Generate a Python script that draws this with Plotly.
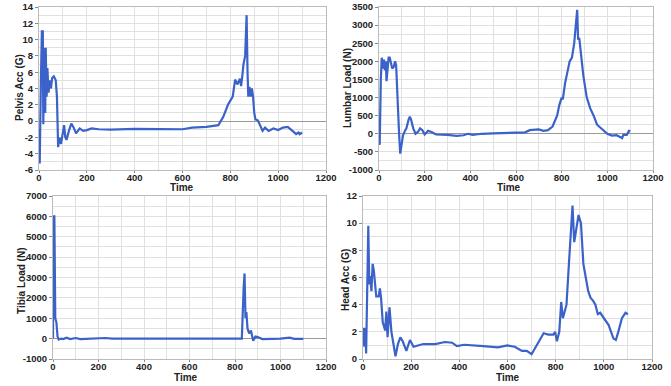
import plotly.graph_objects as go

# Pelvis acceleration (G)
pelvis_t = [0, 3, 8, 12, 16, 18, 22, 26, 28, 32, 35, 40, 45, 50, 55, 62, 70, 75, 80, 85, 92, 100, 105, 110, 115, 125, 135, 145, 155, 170, 185, 200, 220, 250, 300, 400, 500, 600, 640, 700, 750, 770, 790, 800, 810, 820, 830, 840, 845, 850, 855, 862, 868, 872, 875, 880, 885, 890, 895, 900, 905, 915, 925, 935, 945, 960, 980, 1000, 1020, 1040, 1060, 1075, 1085, 1090, 1100]
pelvis_v = [-1, -5.2, 5, 11, 11, -0.4, 9, 1, 9, 3, 6.5, 3.5, 5, 4, 5.3, 5.5, 5, 3, -3.2, -2, -2.8, -1.5, -0.5, -2, -2.3, -1.2, -0.3, -0.8, -1.5, -0.9, -1.2, -1.1, -0.9, -1.0, -1.05, -0.95, -1.0, -1.0, -0.8, -0.7, -0.5, 0.5, 2, 2.6, 3, 5.1, 4.5, 5.2, 4.3, 5.5, 7, 8, 13, 6, 3, 4.2, 3, 4, 3, 1, 0.2, 0.1, -0.5, -1.2, -0.8, -1.2, -0.9, -1.1, -0.8, -0.7, -1.2, -1.6, -1.4, -1.6, -1.4]

# Lumbar load (N)
lumbar_t = [0, 3, 8, 12, 18, 22, 26, 30, 33, 37, 42, 47, 52, 58, 65, 70, 75, 80, 88, 93, 100, 105, 115, 120, 130, 135, 140, 150, 160, 170, 180, 190, 200, 215, 230, 250, 300, 340, 370, 390, 410, 450, 500, 550, 600, 640, 660, 700, 720, 740, 760, 780, 790, 800, 805, 815, 825, 835, 845, 855, 862, 868, 872, 877, 895, 910, 925, 940, 955, 980, 1000, 1020, 1040, 1060, 1065, 1070, 1085, 1095, 1100]
lumbar_v = [-250, -300, 1500, 2100, 1800, 2050, 1750, 2000, 1450, 1900, 2100, 2100, 1950, 1800, 1850, 2000, 1900, 1000, 0, -550, -200, -50, 100, 150, 400, 470, 400, 150, 0, 50, 150, 100, -20, 80, 50, -20, -30, -60, -40, 0, -30, 0, 10, 30, 30, 40, 100, 120, 80, 100, 200, 500, 800, 1000, 950, 1400, 1700, 2000, 2100, 2500, 3000, 3420, 2600, 2650, 1600, 1000, 700, 500, 250, 100, 0, -50, -40, -100, -120, -30, -30, 80, 60]

# Tibia load (N)
tibia_t = [0, 2, 6, 10, 15, 20, 25, 35, 45, 60, 75, 100, 120, 200, 230, 260, 400, 600, 700, 750, 830, 838, 842, 846, 850, 855, 862, 870, 875, 880, 890, 900, 920, 1000, 1040, 1060, 1100]
tibia_v = [0, 6000, 6000, 1000, 800, 100, -50, 0, -20, 50, -20, 30, -20, 0, 30, 0, 0, 0, 30, 0, 0, 2500, 3200, 1000, 1300, 500, 250, 400, 100, -100, 100, 80, -20, 0, 50, -10, -10]

# Head acceleration (G)
head_t = [0, 3, 6, 10, 13, 18, 22, 26, 30, 35, 40, 45, 55, 65, 70, 75, 82, 92, 97, 102, 110, 118, 128, 135, 145, 155, 165, 180, 195, 210, 250, 300, 340, 370, 390, 420, 500, 560, 600, 630, 660, 680, 700, 720, 750, 770, 790, 798, 805, 815, 823, 830, 845, 855, 865, 870, 877, 885, 895, 905, 915, 925, 935, 945, 955, 965, 975, 985, 1000, 1020, 1040, 1050, 1060, 1075, 1090, 1100]
head_v = [1.0, 2.3, 0.9, 2.3, 0.4, 6, 9.8, 5.5, 6.1, 5, 7, 6.5, 4.6, 4.6, 5.2, 4.5, 2.7, 2.1, 3.5, 1.6, 3.8, 2.0, 0.8, 0.2, 1.1, 1.6, 1.3, 0.6, 1.4, 0.9, 1.1, 1.1, 1.25, 1.2, 0.95, 1.05, 0.95, 0.85, 1.0, 0.9, 0.6, 0.6, 0.35, 1.0, 1.9, 1.8, 1.8, 2.0, 1.3, 2.0, 4.2, 3.0, 4.0, 7.0, 9.5, 11.3, 8.6, 9.5, 10.6, 10.0, 7.0, 6.0, 5.0, 4.5, 4.3, 4.0, 3.3, 3.4, 3.0, 2.5, 1.5, 1.4, 2.0, 3.0, 3.4, 3.3]

x_ticks = [0, 200, 400, 600, 800, 1000, 1200]
x_title = "Time"

W, H = 671, 386
panels = [
    dict(t=pelvis_t, v=pelvis_v, title="Pelvis Acc (G)", yr=[-6, 14], dt=2, mdt=1,
         px=(39, 326), py=(7, 170), ytx=19, yty=88, xtx=182, xty=188),
    dict(t=lumbar_t, v=lumbar_v, title="Lumbar Load (N)", yr=[-1000, 3500], dt=500, mdt=250,
         px=(379, 653), py=(7, 170), ytx=347, yty=88, xtx=509, xty=188),
    dict(t=tibia_t, v=tibia_v, title="Tibia Load (N)", yr=[-1000, 7000], dt=1000, mdt=500,
         px=(53, 326), py=(196, 359), ytx=21, yty=281, xtx=186, xty=377),
    dict(t=head_t, v=head_v, title="Head Acc (G)", yr=[0, 12], dt=2, mdt=1,
         px=(363, 652), py=(196, 359), ytx=345, yty=280, xtx=508, xty=377),
]

fig = go.Figure()
FONT = "Liberation Sans, Arial, sans-serif"
tick_font = dict(family=FONT, size=9.5, color="#222")
title_font = dict(family=FONT, size=10, color="#222")
grid = "#e0e0e0"

def fx(v):
    return v / W

def fy(v):
    return 1 - v / H

for i, p in enumerate(panels):
    n = "" if i == 0 else str(i + 1)
    xd = [fx(p["px"][0]), fx(p["px"][1])]
    yd = [fy(p["py"][1]), fy(p["py"][0])]
    yvals = list(range(p["yr"][0], p["yr"][1] + 1, p["dt"]))
    fig.add_trace(go.Scatter(x=p["t"], y=p["v"], mode="lines",
                             line=dict(color="#3a62c9", width=2.2),
                             xaxis="x" + n, yaxis="y" + n, showlegend=False))
    fig.update_layout(**{
        "xaxis" + n: dict(domain=xd, anchor="y" + n, range=[0, 1200], automargin=False,
                          tickvals=x_ticks, ticktext=["<b>%d</b>" % v for v in x_ticks],
                          tickfont=tick_font, showgrid=True, gridcolor=grid,
                          minor=dict(dtick=100, showgrid=True, gridcolor=grid),
                          showline=True, linecolor="#bbbbbb", mirror=True,
                          ticks="outside", ticklen=2, tickcolor="#888",
                          ticklabelstandoff=-3, zeroline=False),
        "yaxis" + n: dict(domain=yd, anchor="x" + n, range=p["yr"], automargin=False,
                          tickvals=yvals, ticktext=["<b>%d</b>" % v for v in yvals],
                          tickfont=tick_font, showgrid=True, gridcolor=grid,
                          minor=dict(dtick=p["mdt"], showgrid=True, gridcolor=grid),
                          showline=True, linecolor="#bbbbbb", mirror=True,
                          ticks="outside", ticklen=3, tickcolor="#888",
                          ticklabeloverflow="allow",
                          zeroline=True, zerolinecolor="#999999", zerolinewidth=1),
    })
    fig.add_annotation(text="<b>%s</b>" % x_title, x=fx(p["xtx"]), y=fy(p["xty"]),
                       xref="paper", yref="paper", showarrow=False, font=title_font,
                       xanchor="center", yanchor="middle")
    fig.add_annotation(text="<b>%s</b>" % p["title"], x=fx(p["ytx"]), y=fy(p["yty"]),
                       xref="paper", yref="paper", showarrow=False, font=title_font,
                       textangle=-90, xanchor="center", yanchor="middle")

fig.update_layout(width=W, height=H, margin=dict(l=0, r=0, t=0, b=0),
                  plot_bgcolor="white", paper_bgcolor="white")
# remove the default page margin so the figure fills the window exactly
fig.write_html("out.html", config={"displayModeBar": False},
               post_script="document.body.style.margin='0px';")
